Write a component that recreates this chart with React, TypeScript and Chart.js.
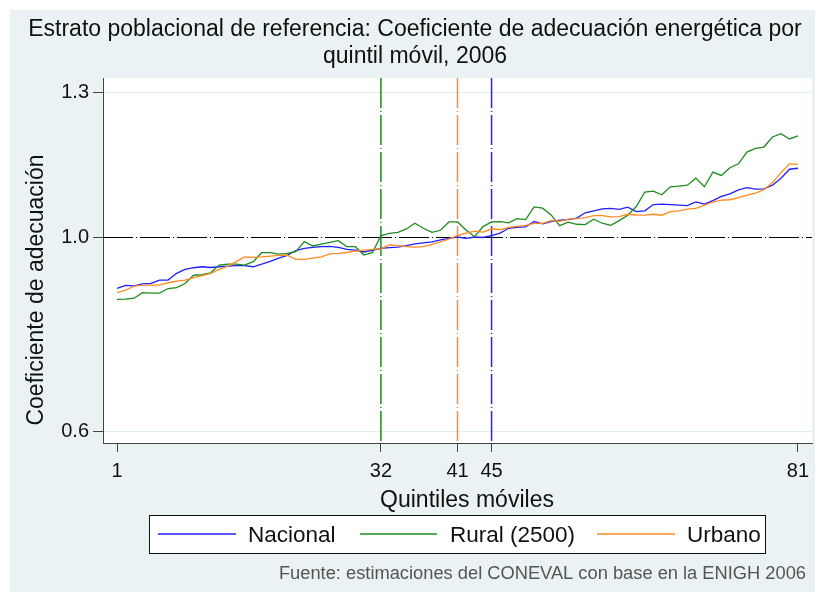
import React, { useEffect, useRef } from 'react';
import { Chart, registerables } from 'chart.js';

Chart.register(...registerables);

// Coeficiente de adecuación energética por quintil móvil (1..81)
const nacional = [
  0.895, 0.901, 0.900, 0.904, 0.905, 0.912, 0.912, 0.926, 0.934, 0.9375,
  0.9395, 0.938, 0.9395, 0.941, 0.942, 0.942, 0.9395, 0.945, 0.9505, 0.9575,
  0.963, 0.973, 0.9775, 0.9795, 0.981, 0.9815, 0.9795, 0.9755, 0.974, 0.970,
  0.9735, 0.9776, 0.979, 0.980, 0.983, 0.987, 0.989, 0.991, 0.995, 0.998,
  1.001, 0.998, 1.001, 1.000, 1.004, 1.009, 1.019, 1.021, 1.022, 1.033,
  1.028, 1.033, 1.036, 1.037, 1.040, 1.051, 1.055, 1.059, 1.060, 1.058,
  1.0625, 1.0535, 1.055, 1.068, 1.069, 1.068, 1.067, 1.066, 1.0735, 1.069,
  1.076, 1.085, 1.090, 1.0985, 1.103, 1.100, 1.1005, 1.108, 1.1225, 1.141,
  1.143,
];

const rural = [
  0.872, 0.8725, 0.8745, 0.886, 0.885, 0.885, 0.8945, 0.8965, 0.905, 0.922,
  0.923, 0.927, 0.943, 0.945, 0.945, 0.943, 0.950, 0.9686, 0.9686, 0.9658,
  0.9672, 0.9706, 0.9914, 0.9824, 0.9865, 0.990, 0.9934, 0.981, 0.981, 0.9637,
  0.9686, 1.0038, 1.0086, 1.0107, 1.0176, 1.0294, 1.019, 1.0107, 1.0149, 1.0321,
  1.0321, 1.0156, 1.0017, 1.0225, 1.0321, 1.0328, 1.0301, 1.039, 1.037, 1.0632,
  1.0605, 1.0466, 1.0245, 1.0315, 1.0273, 1.0266, 1.0377, 1.0294, 1.0252, 1.0349,
  1.046, 1.0639, 1.0936, 1.0957, 1.0881, 1.1047, 1.1061, 1.1081, 1.1226, 1.1047,
  1.1351, 1.1282, 1.144, 1.1523, 1.1765, 1.1841, 1.1869, 1.2076, 1.2145, 1.2035,
  1.2097,
];

const urbano = [
  0.886, 0.891, 0.8995, 0.9015, 0.9015, 0.9015, 0.9065, 0.910, 0.912, 0.917,
  0.921, 0.926, 0.934, 0.941, 0.950, 0.960, 0.959, 0.960, 0.9615, 0.963,
  0.9637, 0.9548, 0.9548, 0.9575, 0.960, 0.966, 0.967, 0.969, 0.972, 0.974,
  0.9755, 0.977, 0.9845, 0.983, 0.981, 0.980, 0.981, 0.986, 0.991, 0.997,
  1.004, 1.009, 1.013, 1.011, 1.018, 1.016, 1.021, 1.023, 1.025, 1.029,
  1.029, 1.035, 1.0335, 1.038, 1.039, 1.041, 1.045, 1.045, 1.0425, 1.043,
  1.048, 1.0465, 1.046, 1.048, 1.046, 1.0535, 1.055, 1.0585, 1.060, 1.067,
  1.073, 1.077, 1.078, 1.0825, 1.0875, 1.0915, 1.0985, 1.1135, 1.134, 1.152,
  1.151,
];

const xTickValues = [1, 32, 41, 45, 81];
const yTickValues = [0.6, 1.0, 1.3];
const corteRural = 32;
const corteUrbano = 41;
const corteNacional = 45;
const referencia = 1.0;

const X_MIN = -0.645;
const X_MAX = 82.645;
const Y_MIN = 0.5754;
const Y_MAX = 1.3295;

const FONT = '"Liberation Sans", Arial, Helvetica, sans-serif';
const BLUE = '#1f1fff';
const GREEN = '#1f8a1f';
const ORANGE = '#ff8a20';
const DASH = [30, 3, 1, 3];

const toPoints = (arr: number[]) => arr.map((v, i) => ({ x: i + 1, y: v }));

const refLinesPlugin = {
  id: 'refLines',
  beforeDatasetsDraw(chart: any) {
    const { ctx, chartArea: a, scales } = chart;
    const xs = scales.x;
    const ys = scales.y;
    ctx.save();
    ctx.beginPath();
    ctx.rect(a.left, a.top, a.right - a.left, a.bottom - a.top);
    ctx.clip();
    ctx.lineWidth = 1;
    ctx.setLineDash(DASH);
    const yRef = Math.round(ys.getPixelForValue(referencia)) + 0.5;
    ctx.strokeStyle = '#000';
    ctx.beginPath();
    ctx.moveTo(a.left, yRef);
    ctx.lineTo(a.right, yRef);
    ctx.stroke();
    const verts = [
      { v: corteRural, c: GREEN },
      { v: corteUrbano, c: ORANGE },
      { v: corteNacional, c: BLUE },
    ];
    ctx.lineWidth = 1.5;
    verts.forEach(({ v, c }) => {
      const px = xs.getPixelForValue(v);
      ctx.strokeStyle = c;
      ctx.beginPath();
      ctx.moveTo(px, a.top);
      ctx.lineTo(px, a.bottom);
      ctx.stroke();
    });
    ctx.restore();
  },
};

const decorPlugin = {
  id: 'decor',
  beforeDraw(chart: any) {
    const { ctx, chartArea: a } = chart;
    ctx.save();
    ctx.fillStyle = '#ffffff';
    ctx.fillRect(0, 0, chart.width, chart.height);
    ctx.fillStyle = '#eaf2f3';
    ctx.fillRect(10, 10, 805, 582);
    ctx.fillStyle = '#ffffff';
    ctx.fillRect(a.left, a.top, a.right - a.left, a.bottom - a.top);
    ctx.restore();
  },
  afterDraw(chart: any) {
    const { ctx } = chart;
    ctx.save();
    // Title
    ctx.fillStyle = '#111';
    ctx.textAlign = 'center';
    ctx.textBaseline = 'alphabetic';
    ctx.font = `23px ${FONT}`;
    ctx.fillText('Estrato poblacional de referencia: Coeficiente de adecuación energética por', 415, 36);
    ctx.fillText('quintil móvil, 2006', 415, 63);

    // Y axis title
    ctx.save();
    ctx.translate(43, 290);
    ctx.rotate(-Math.PI / 2);
    ctx.font = `23px ${FONT}`;
    ctx.textAlign = 'center';
    ctx.fillText('Coeficiente de adecuación', 0, 0);
    ctx.restore();

    // X axis title
    ctx.font = `23px ${FONT}`;
    ctx.textAlign = 'center';
    ctx.fillText('Quintiles móviles', 467, 507);

    // Legend
    const lx = 149, ly = 515, lw = 616, lh = 38;
    ctx.fillStyle = '#ffffff';
    ctx.fillRect(lx, ly, lw, lh);
    ctx.strokeStyle = '#111';
    ctx.lineWidth = 1;
    ctx.strokeRect(lx + 0.5, ly + 0.5, lw, lh);
    const items = [
      { label: 'Nacional', color: BLUE, s0: 158, s1: 236, t: 248 },
      { label: 'Rural (2500)', color: GREEN, s0: 360, s1: 437, t: 450 },
      { label: 'Urbano', color: ORANGE, s0: 597, s1: 675, t: 687 },
    ];
    ctx.font = `22.5px ${FONT}`;
    ctx.textAlign = 'left';
    items.forEach((it) => {
      ctx.strokeStyle = it.color;
      ctx.lineWidth = 1.3;
      ctx.beginPath();
      ctx.moveTo(it.s0, 534);
      ctx.lineTo(it.s1, 534);
      ctx.stroke();
      ctx.fillStyle = '#111';
      ctx.fillText(it.label, it.t, 542);
    });

    // Note
    ctx.fillStyle = '#555';
    ctx.font = `18.3px ${FONT}`;
    ctx.textAlign = 'right';
    ctx.fillText('Fuente: estimaciones del CONEVAL con base en la ENIGH 2006', 806, 579);
    ctx.restore();
  },
};

export default function App() {
  const ref = useRef<HTMLCanvasElement | null>(null);
  useEffect(() => {
    if (!ref.current) return;
    const lineDs = (label: string, data: number[], color: string) => ({
      label,
      data: toPoints(data),
      borderColor: color,
      backgroundColor: color,
      borderWidth: 1.3,
      pointRadius: 0,
      tension: 0,
      fill: false,
    });
    const chart = new Chart(ref.current, {
      type: 'line',
      data: {
        datasets: [
          lineDs('Urbano', urbano, ORANGE),
          lineDs('Rural (2500)', rural, GREEN),
          lineDs('Nacional', nacional, BLUE),
        ] as any,
      },
      options: {
        responsive: false,
        animation: false,
        events: [],
        layout: { padding: { top: 78, right: 6, bottom: 109, left: 0 } },
        plugins: {
          legend: { display: false },
          title: { display: false },
          tooltip: { enabled: false },
        },
        scales: {
          x: {
            type: 'linear',
            min: X_MIN,
            max: X_MAX,
            afterBuildTicks: (s: any) => {
              s.ticks = xTickValues.map((v) => ({ value: v }));
            },
            afterFit: (s: any) => {
              s.height = 40;
            },
            grid: {
              drawOnChartArea: false,
              drawTicks: true,
              tickLength: 9,
              tickColor: '#444',
              tickWidth: 1,
            },
            border: { color: '#444', width: 1 },
            ticks: {
              font: { family: FONT, size: 20 },
              color: '#111',
              padding: 7,
              maxRotation: 0,
              autoSkip: false,
              callback: (v: any) => String(v),
            },
          },
          y: {
            type: 'linear',
            min: Y_MIN,
            max: Y_MAX,
            afterBuildTicks: (s: any) => {
              s.ticks = yTickValues.map((v) => ({ value: v }));
            },
            afterFit: (s: any) => {
              s.width = 103;
            },
            grid: {
              drawOnChartArea: true,
              color: '#e4eef0',
              drawTicks: true,
              tickLength: 10,
              tickColor: '#444',
              tickWidth: 1,
            },
            border: { color: '#444', width: 1 },
            ticks: {
              font: { family: FONT, size: 20 },
              color: '#111',
              padding: 4,
              callback: (v: any) => Number(v).toFixed(1),
            },
          },
        },
      } as any,
      plugins: [decorPlugin, refLinesPlugin],
    });
    return () => chart.destroy();
  }, []);
  return (
    <div style={{ position: 'fixed', left: 0, top: 0, width: 818, height: 592 }}>
      <canvas ref={ref} width={818} height={592} style={{ display: 'block', width: 818, height: 592 }} />
    </div>
  );
}
